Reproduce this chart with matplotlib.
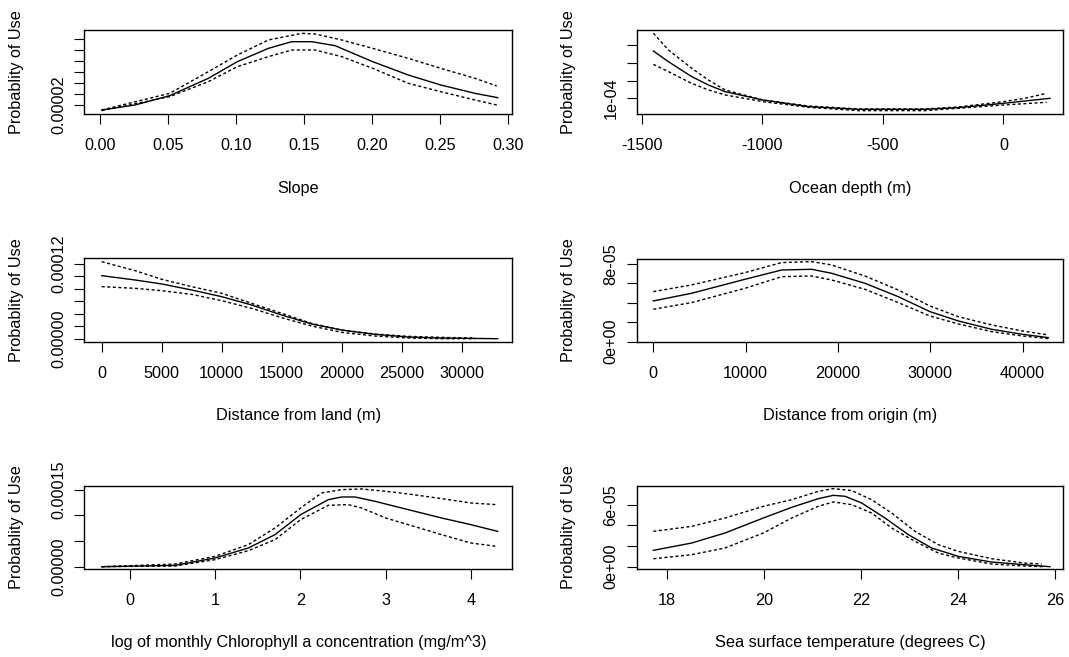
import matplotlib
matplotlib.use("Agg")
import matplotlib.pyplot as plt

plt.rcParams['font.family'] = ['Liberation Sans', 'DejaVu Sans']

# ---- Slope ----
slope_x_fit = [0.0012, 0.0257, 0.0512, 0.0796, 0.1009, 0.1237, 0.1408, 0.1555, 0.1727, 0.2003, 0.2265, 0.2503, 0.2755, 0.2922]
slope_fit = [1.09e-5, 2.0e-5, 3.70e-5, 6.85e-5, 9.88e-5, 1.23e-4, 1.351e-4, 1.351e-4, 1.279e-4, 9.88e-5, 7.45e-5, 5.64e-5, 4.12e-5, 3.33e-5]
slope_x_hi = [0.0012, 0.0512, 0.0796, 0.1009, 0.1237, 0.1482, 0.158, 0.1776, 0.2003, 0.2265, 0.2503, 0.2755, 0.2915]
slope_hi = [1.09e-5, 4.12e-5, 8.06e-5, 1.109e-4, 1.382e-4, 1.503e-4, 1.491e-4, 1.382e-4, 1.23e-4, 1.048e-4, 8.67e-5, 6.85e-5, 5.45e-5]
slope_x_lo = [0.0012, 0.0512, 0.0796, 0.1009, 0.1237, 0.1408, 0.158, 0.1776, 0.2003, 0.2265, 0.2503, 0.2755, 0.2915]
slope_lo = [9.7e-6, 3.52e-5, 6.24e-5, 8.97e-5, 1.079e-4, 1.2e-4, 1.2e-4, 1.079e-4, 8.67e-5, 5.94e-5, 4.42e-5, 2.91e-5, 2.0e-5]

# ---- Ocean depth ----
depth_x_fit = [-1451.6, -1389.4, -1292.7, -1223.6, -1154.5, -998.3, -809, -601.7, -325.3, -187.1, 0.5, 193]
depth_fit = [3.66e-4, 3.06e-4, 2.22e-4, 1.75e-4, 1.375e-4, 9.06e-5, 5.31e-5, 3.81e-5, 3.81e-5, 4.75e-5, 7.19e-5, 1.0e-4]
depth_x_hi = [-1451.6, -1389.4, -1292.7, -1223.6, -1154.5, -998.3, -809, -601.7, -325.3, -187.1, 0.5, 89.3, 179]
depth_hi = [4.66e-4, 3.72e-4, 2.69e-4, 2.03e-4, 1.47e-4, 9.06e-5, 5.69e-5, 4.0e-5, 4.0e-5, 5.13e-5, 8.13e-5, 1.0e-4, 1.28e-4]
depth_x_lo = [-1451.6, -1389.4, -1292.7, -1223.6, -1154.5, -998.3, -809, -601.7, -325.3, -187.1, 0.5, 179]
depth_lo = [2.91e-4, 2.5e-4, 1.84e-4, 1.47e-4, 1.19e-4, 8.13e-5, 4.94e-5, 3.06e-5, 3.06e-5, 4.38e-5, 6.25e-5, 7.75e-5]

# ---- Distance from land ----
land_x_fit = [0, 2778, 5000, 7500, 10000, 12500, 15000, 17500, 20000, 22780, 25560, 28330, 33000]
land_fit = [1.012e-4, 9.43e-5, 8.79e-5, 7.82e-5, 6.75e-5, 5.41e-5, 3.80e-5, 2.36e-5, 1.39e-5, 6.96e-6, 2.68e-6, 1.07e-6, 0.0]
land_x_band = [0, 2778, 5000, 7500, 10000, 12500, 15000, 17500, 20000, 22780, 25560, 28330, 31110]
land_hi = [1.237e-4, 1.093e-4, 9.54e-5, 8.36e-5, 7.29e-5, 5.68e-5, 4.07e-5, 2.46e-5, 1.39e-5, 7.5e-6, 3.75e-6, 2.14e-6, 1.07e-6]
land_lo = [8.36e-5, 8.09e-5, 7.71e-5, 7.12e-5, 6.11e-5, 4.87e-5, 3.37e-5, 2.04e-5, 1.02e-5, 4.3e-6, 1.07e-6, 0.0, 0.0]

# ---- Distance from origin ----
orig_x = [0, 4150, 9930, 13900, 17150, 19310, 22920, 26530, 29960, 33030, 36640, 39960, 42780]
orig_fit = [4.19e-5, 4.98e-5, 6.42e-5, 7.38e-5, 7.45e-5, 7.04e-5, 6.01e-5, 4.63e-5, 3.09e-5, 2.13e-5, 1.27e-5, 7.55e-6, 4.12e-6]
orig_hi = [5.15e-5, 5.84e-5, 7.11e-5, 8.14e-5, 8.24e-5, 7.9e-5, 6.76e-5, 5.32e-5, 3.67e-5, 2.57e-5, 1.72e-5, 1.10e-5, 6.87e-6]
orig_lo = [3.33e-5, 4.02e-5, 5.49e-5, 6.69e-5, 6.76e-5, 6.35e-5, 5.39e-5, 4.02e-5, 2.64e-5, 1.82e-5, 1.03e-5, 5.84e-6, 3.09e-6]

# ---- log Chlorophyll a ----
chl_x_fit = [-0.332, 0.528, 0.997, 1.388, 1.701, 2.002, 2.327, 2.483, 2.639, 2.874, 3.265, 3.656, 4.0, 4.313]
chl_fit = [0.0, 2.6e-6, 1.69e-5, 3.64e-5, 6.23e-5, 1.013e-4, 1.305e-4, 1.357e-4, 1.357e-4, 1.273e-4, 1.11e-4, 9.48e-5, 8.18e-5, 6.88e-5]
chl_x_hi = [-0.332, 0.0, 0.528, 0.997, 1.388, 1.701, 2.002, 2.248, 2.483, 2.718, 2.999, 3.265, 3.656, 4.0, 4.301]
chl_hi = [0.0, 1.95e-6, 5.2e-6, 2.01e-5, 4.29e-5, 7.53e-5, 1.143e-4, 1.435e-4, 1.5e-4, 1.513e-4, 1.468e-4, 1.416e-4, 1.325e-4, 1.24e-4, 1.208e-4]
chl_x_lo = [-0.332, 0.528, 0.997, 1.388, 1.701, 2.002, 2.327, 2.561, 2.718, 2.999, 3.265, 3.656, 4.0, 4.301]
chl_lo = [0.0, 1.3e-6, 1.36e-5, 3.12e-5, 5.26e-5, 9.16e-5, 1.195e-4, 1.208e-4, 1.143e-4, 9.48e-5, 8.18e-5, 6.23e-5, 4.61e-5, 3.96e-5]

# ---- Sea surface temperature ----
sst_x_fit = [17.725, 18.515, 19.202, 19.992, 20.576, 21.125, 21.434, 21.674, 22.018, 22.499, 22.979, 23.46, 24.01, 24.696, 25.383, 25.898]
sst_fit = [1.58e-5, 2.29e-5, 3.26e-5, 4.71e-5, 5.74e-5, 6.58e-5, 6.90e-5, 6.81e-5, 6.16e-5, 4.71e-5, 3.10e-5, 1.81e-5, 1.0e-5, 4.5e-6, 1.9e-6, 0.0]
sst_x_hi = [17.725, 18.515, 19.202, 19.992, 20.576, 21.125, 21.434, 21.812, 22.224, 22.636, 23.117, 23.598, 24.01, 24.696, 25.383, 25.727]
sst_hi = [3.42e-5, 3.9e-5, 4.71e-5, 5.84e-5, 6.48e-5, 7.29e-5, 7.55e-5, 7.36e-5, 6.48e-5, 5.19e-5, 3.42e-5, 2.13e-5, 1.48e-5, 7.7e-6, 3.5e-6, 2.6e-6]
sst_x_lo = [17.725, 18.515, 19.202, 19.992, 20.576, 21.125, 21.434, 21.812, 22.224, 22.636, 23.117, 23.598, 24.01, 24.696, 25.383, 25.795]
sst_lo = [7.7e-6, 1.16e-5, 1.81e-5, 3.26e-5, 4.71e-5, 5.84e-5, 6.26e-5, 6.0e-5, 5.19e-5, 3.74e-5, 2.45e-5, 1.32e-5, 8.4e-6, 2.6e-6, 6e-7, 0.0]

# tick values / labels
slope_xticks = [0.0, 0.05, 0.10, 0.15, 0.20, 0.25, 0.30]
slope_xlabels = ["0.00", "0.05", "0.10", "0.15", "0.20", "0.25", "0.30"]
slope_yticks = [2e-5, 4e-5, 6e-5, 8e-5, 1e-4, 1.2e-4, 1.4e-4]
slope_ylabels = ["0.00002", "", "", "", "", "", ""]

depth_xticks = [-1500, -1000, -500, 0]
depth_xlabels = ["-1500", "-1000", "-500", "0"]
depth_yticks = [1e-4, 2e-4, 3e-4, 4e-4]
depth_ylabels = ["1e-04", "", "", ""]

land_xticks = [0, 5000, 10000, 15000, 20000, 25000, 30000]
land_xlabels = ["0", "5000", "10000", "15000", "20000", "25000", "30000"]
land_yticks = [0, 2e-5, 4e-5, 6e-5, 8e-5, 1e-4, 1.2e-4]
land_ylabels = ["0.00000", "", "", "", "", "", "0.00012"]

orig_xticks = [0, 10000, 20000, 30000, 40000]
orig_xlabels = ["0", "10000", "20000", "30000", "40000"]
orig_yticks = [0, 2e-5, 4e-5, 6e-5, 8e-5]
orig_ylabels = ["0e+00", "", "", "", "8e-05"]

chl_xticks = [0, 1, 2, 3, 4]
chl_xlabels = ["0", "1", "2", "3", "4"]
chl_yticks = [0, 5e-5, 1e-4, 1.5e-4]
chl_ylabels = ["0.00000", "", "", "0.00015"]

sst_xticks = [18, 20, 22, 24, 26]
sst_xlabels = ["18", "20", "22", "24", "26"]
sst_yticks = [0, 2e-5, 4e-5, 6e-5]
sst_ylabels = ["0e+00", "", "", "6e-05"]

W, H = 1069, 657
fig = plt.figure(figsize=(W / 100, H / 100), dpi=100)
FS = 11.7


def panel(box, xlim, ylim, fit, hi, lo, xticks, xlabels, yticks, ylabels, xlabel):
    x0, y0, x1, y1 = box  # pixel box (left, top, right, bottom)
    ax = fig.add_axes([x0 / W, 1 - y1 / H, (x1 - x0) / W, (y1 - y0) / H])
    ax.plot(fit[0], fit[1], color='black', lw=1.0)
    ax.plot(hi[0], hi[1], color='black', lw=1.0, linestyle=(0, (2.2, 1.8)))
    ax.plot(lo[0], lo[1], color='black', lw=1.0, linestyle=(0, (2.2, 1.8)))
    ax.set_xlim(xlim)
    ax.set_ylim(ylim)
    ax.set_xticks(xticks)
    ax.set_xticklabels(xlabels)
    ax.set_yticks(yticks)
    ax.set_yticklabels(ylabels, rotation=90, va='center')
    ax.tick_params(direction='out', length=7.2, width=0.8, labelsize=FS, colors='black')
    ax.tick_params(axis='x', pad=10)
    ax.tick_params(axis='y', pad=6)
    for s in ax.spines.values():
        s.set_linewidth(1.0)
    hpx = y1 - y0
    wpx = x1 - x0
    ax.set_xlabel(xlabel, fontsize=FS, va='center')
    ax.xaxis.set_label_coords(0.5, -74.0 / hpx)
    ax.set_ylabel("Probablity of Use", fontsize=FS, va='center')
    ax.yaxis.set_label_coords(-68.0 / wpx, 0.5)
    return ax


panel((84.3, 30, 512.3, 114.3), (-0.01154, 0.3029), (3.09e-6, 1.5636e-4),
      (slope_x_fit, slope_fit), (slope_x_hi, slope_hi), (slope_x_lo, slope_lo),
      slope_xticks, slope_xlabels, slope_yticks, slope_ylabels, "Slope")
panel((636.7, 30, 1063.3, 114.3), (-1520.7, 248), (1.0e-5, 4.84e-4),
      (depth_x_fit, depth_fit), (depth_x_hi, depth_hi), (depth_x_lo, depth_lo),
      depth_xticks, depth_xlabels, depth_yticks, depth_ylabels, "Ocean depth (m)")
panel((84.3, 258.3, 512.3, 341.7), (-1450, 34217), (-4.8e-6, 1.291e-4),
      (land_x_fit, land_fit), (land_x_band, land_hi), (land_x_band, land_lo),
      land_xticks, land_xlabels, land_yticks, land_ylabels, "Distance from land (m)")
panel((636.7, 259.3, 1063.3, 341.7), (-1798, 44406), (-1e-7, 8.48e-5),
      (orig_x, orig_fit), (orig_x, orig_hi), (orig_x, orig_lo),
      orig_xticks, orig_xlabels, orig_yticks, orig_ylabels, "Distance from origin (m)")
panel((84.3, 486.3, 512.3, 568.7), (-0.5357, 4.485), (-3.9e-6, 1.565e-4),
      (chl_x_fit, chl_fit), (chl_x_hi, chl_hi), (chl_x_lo, chl_lo),
      chl_xticks, chl_xlabels, chl_yticks, chl_ylabels,
      "log of monthly Chlorophyll a concentration (mg/m^3)")
panel((636.7, 486.3, 1063.3, 568.7), (17.382, 26.173), (-1.94e-6, 7.775e-5),
      (sst_x_fit, sst_fit), (sst_x_hi, sst_hi), (sst_x_lo, sst_lo),
      sst_xticks, sst_xlabels, sst_yticks, sst_ylabels,
      "Sea surface temperature (degrees C)")

fig.savefig("out.png", dpi=100, facecolor='white')
